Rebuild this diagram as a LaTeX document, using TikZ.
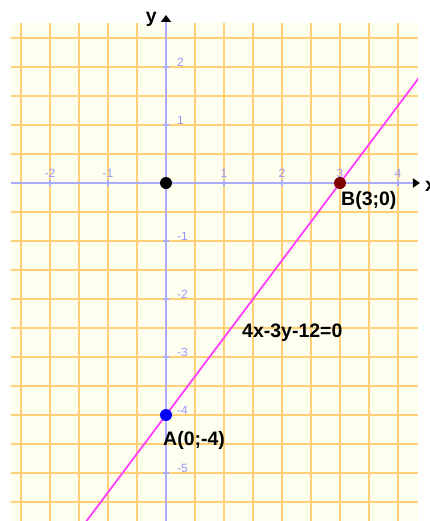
\documentclass[tikz,border=0pt]{standalone}
\usepackage{fontspec}
\setmainfont{Liberation Sans}
\usetikzlibrary{arrows.meta,calc}
\definecolor{bgyellow}{RGB}{255,255,240}
\definecolor{gridorange}{RGB}{255,208,120}
\definecolor{axisblue}{RGB}{170,170,255}
\definecolor{ticklbl}{RGB}{150,150,255}
\definecolor{linemag}{RGB}{255,64,255}
\definecolor{ptred}{RGB}{128,0,0}
\definecolor{ptblue}{RGB}{0,0,255}
\begin{document}
\begin{tikzpicture}[x=58pt,y=58pt,
  gridline/.style={gridorange,line width=1.5pt},
  axisline/.style={axisblue,line width=2pt},
  tickmark/.style={axisblue,line width=1.5pt},
  ticklabel/.style={ticklbl,font=\fontsize{12}{14}\selectfont,inner sep=0pt},
  dot/.style={circle,inner sep=0pt,minimum size=12pt},
  lbl/.style={font=\fontsize{19.5}{22}\selectfont\bfseries,inner sep=0pt},
  graphline/.style={linemag,line width=1.8pt}]
\useasboundingbox (-2.8621,3.1552) rectangle (4.5517,-5.8276);
% background and grid
\fill[bgyellow] (-2.672,2.759) rectangle (4.345,-5.8276);
\foreach \x in {-2.5,-2,...,4} \draw[gridline] (\x,2.759) -- (\x,-5.8276);
\foreach \y in {2.5,2,...,-5.5} \draw[gridline] (-2.672,\y) -- (4.345,\y);
% axes
\coordinate (xs) at (-2.672,0);
\coordinate (xe) at (4.379,0);
\coordinate (ys) at (0,-5.8276);
\coordinate (ye) at (0,2.897);
\draw[axisline,-{Triangle[length=7pt,width=9pt,color=black]}] (xs) -- (xe);
\draw[axisline,-{Triangle[length=7pt,width=10pt,color=black]}] (ys) -- (ye);
\foreach \x in {-2,-1,1,2,3,4} {
  \draw[tickmark] (\x,-0.06) -- (\x,0.06);
  \node[ticklabel,anchor=base] at (\x,0.103) {\x};
}
\foreach \y in {-5,-4,-3,-2,-1,1,2} {
  \draw[tickmark] (-0.06,\y) -- (0.06,\y);
  \node[ticklabel,anchor=base west] at ({0.19},{\y+0.017}) {\y};
}
% line 4x-3y-12=0 through A and B
\coordinate (pA) at (0,-4);
\coordinate (pB) at (3,0);
\begin{scope}
  \clip (-2.672,2.759) rectangle (4.345,-5.8276);
  \draw[graphline] ($(pA)!-1.5!(pB)$) -- ($(pA)!2!(pB)$);
\end{scope}
% points
\node[dot,fill=black] (O) at (0,0) {};
\node[dot,fill=ptred] (B) at (pB) {};
\node[dot,fill=ptblue] (A) at (pA) {};
% labels
\node[lbl,anchor=base west] (Blbl) at (3.017,-0.391) {B(3;0)};
\node[lbl,anchor=base west] (Albl) at (-0.052,-4.529) {A(0;-4)};
\node[lbl,anchor=base west] (eq) at (1.310,-2.667) {4x-3y-12=0};
\node[lbl,anchor=base east] (ylbl) at (-0.155,2.759) {y};
\node[lbl,anchor=base west] (xlbl) at (4.466,-0.155) {x};
\end{tikzpicture}
\end{document}
